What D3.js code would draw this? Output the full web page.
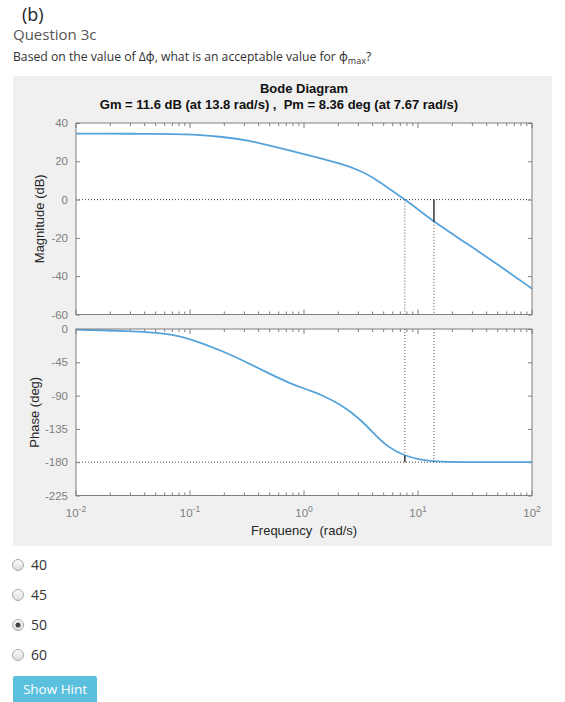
<!DOCTYPE html>
<html>
<head>
<meta charset="utf-8">
<script src="https://cdn.jsdelivr.net/npm/d3@7"></script>
<style>
  html, body { margin: 0; padding: 0; background: #fff; }
  svg { display: block; }
</style>
</head>
<body>
<svg id="page" width="565" height="702"></svg>
<script>
// ---------- data ----------
const freq     = [0.01, 0.02, 0.03, 0.048, 0.07, 0.1, 0.196, 0.336, 0.503, 0.753, 0.923, 1.13, 1.38, 2.07, 3.10, 4.06, 5.31, 7.67, 10.4, 13.8, 26.7, 52.4, 100];
const magDb    = [34.4, 34.4, 34.4, 34.3, 34.2, 34.1, 32.8, 30.8, 28.2, 25.6, 24.3, 23.0, 21.7, 18.9, 15.2, 11.4, 6.6, 0, -5.8, -11.6, -22.9, -34.7, -46.5];
const phaseDeg = [-0.9, -2.0, -3.1, -4.5, -7.5, -13.1, -30.1, -47.2, -60.9, -73.2, -78.5, -83.3, -88.1, -101.3, -121.4, -140.7, -158.8, -171.6, -176.5, -179.4, -180, -180, -180];
const magTicks = [-60, -40, -20, 0, 20, 40];
const phaseTicks = [-225, -180, -135, -90, -45, 0];
const freqExponents = [-2, -1, 0, 1, 2];
const gmFreq = 13.8, gmDb = -11.6;
const pmFreq = 7.67, pmPhase = -171.64;
const choices = ["40", "45", "50", "60"];
const selectedChoice = "50";

const svg = d3.select("#page");
const chartFont = "'Liberation Sans', Arial, sans-serif";
const pageFont = "'Open Sans', 'Noto Sans', sans-serif";

// ---------- page header ----------
svg.append("text").attr("x", 22).attr("y", 21).attr("font-family", pageFont)
  .attr("font-size", 18).attr("fill", "#222").text("(b)");
svg.append("text").attr("x", 13).attr("y", 40).attr("font-family", pageFont)
  .attr("font-size", 15).attr("fill", "#555").text("Question 3c");
const q = svg.append("text").attr("x", 13).attr("y", 61).attr("font-family", pageFont)
  .attr("font-size", 12.2).attr("fill", "#333");
q.append("tspan").text("Based on the value of Δϕ, what is an acceptable value for ϕ");
q.append("tspan").attr("font-size", 9).attr("dy", 3).text("max");
q.append("tspan").attr("dy", -3).text("?");

// ---------- figure panel ----------
svg.append("rect").attr("x", 13).attr("y", 76).attr("width", 539).attr("height", 470).attr("fill", "#f0f0f0");

const x = d3.scaleLog().domain([0.01, 100]).range([76, 532]);
const yMag = d3.scaleLinear().domain([-60, 40]).range([314.5, 123]);
const yPh = d3.scaleLinear().domain([-225, 0]).range([495.5, 329]);

const axisColor = "#7f7f7f";
const tickColor = "#7f7f7f";
const lineColor = "#55a3da";

svg.append("text").attr("x", 304).attr("y", 93).attr("text-anchor", "middle")
  .attr("font-family", chartFont).attr("font-weight", "bold").attr("font-size", 13).attr("fill", "#111")
  .text("Bode Diagram");
svg.append("text").attr("x", 279).attr("y", 109).attr("text-anchor", "middle")
  .attr("font-family", chartFont).attr("font-weight", "bold").attr("font-size", 13).attr("fill", "#111")
  .style("white-space", "pre")
  .text("Gm = 11.6 dB (at 13.8 rad/s) ,  Pm = 8.36 deg (at 7.67 rad/s)");

function drawPanel(y, ticks, values, refVal) {
  const [y0, y1] = y.range(); // bottom, top
  const g = svg.append("g");
  g.append("rect").attr("x", x.range()[0]).attr("y", y1)
    .attr("width", x.range()[1] - x.range()[0]).attr("height", y0 - y1).attr("fill", "#fff");

  g.append("line").attr("x1", x.range()[0]).attr("x2", x.range()[1])
    .attr("y1", y(refVal)).attr("y2", y(refVal))
    .attr("stroke", "#444").attr("stroke-width", 1).attr("stroke-dasharray", "1,2");

  const left = d3.axisLeft(y).tickValues(ticks).tickSize(-4).tickPadding(8).tickFormat(d => String(d));
  const la = g.append("g").attr("transform", `translate(${x.range()[0]},0)`).call(left);
  la.select(".domain").remove();
  la.selectAll("line").attr("stroke", axisColor);
  la.selectAll("text").attr("font-family", chartFont).attr("font-size", 11.5).attr("fill", tickColor);
  const right = d3.axisRight(y).tickValues(ticks).tickSize(-4).tickFormat("");
  const ra = g.append("g").attr("transform", `translate(${x.range()[1]},0)`).call(right);
  ra.select(".domain").remove();
  ra.selectAll("line").attr("stroke", axisColor);

  const minor = [];
  for (let e = -2; e < 2; e++) for (let m = 2; m <= 9; m++) minor.push(m * Math.pow(10, e));
  const major = freqExponents.map(e => Math.pow(10, e));
  [[y0, -1], [y1, 1]].forEach(([yy, dir]) => {
    g.selectAll(null).data(minor).enter().append("line")
      .attr("x1", d => x(d)).attr("x2", d => x(d)).attr("y1", yy).attr("y2", yy + dir * 3)
      .attr("stroke", axisColor);
    g.selectAll(null).data(major).enter().append("line")
      .attr("x1", d => x(d)).attr("x2", d => x(d)).attr("y1", yy).attr("y2", yy + dir * 5)
      .attr("stroke", axisColor);
  });

  const line = d3.line().x((d, i) => x(freq[i])).y(d => y(d)).curve(d3.curveBasis);
  g.append("path").datum(values).attr("d", line).attr("fill", "none")
    .attr("stroke", lineColor).attr("stroke-width", 1.8);

  g.append("rect").attr("x", x.range()[0]).attr("y", y1)
    .attr("width", x.range()[1] - x.range()[0]).attr("height", y0 - y1)
    .attr("fill", "none").attr("stroke", axisColor).attr("stroke-width", 1);
  return g;
}

const gMag = drawPanel(yMag, magTicks, magDb, 0);
const gPh = drawPanel(yPh, phaseTicks, phaseDeg, -180);

function dotted(g, xx, ya, yb) {
  g.append("line").attr("x1", xx).attr("x2", xx).attr("y1", ya).attr("y2", yb)
    .attr("stroke", "#555").attr("stroke-width", 1).attr("stroke-dasharray", "1,2");
}
function solid(g, xx, ya, yb) {
  g.append("line").attr("x1", xx).attr("x2", xx).attr("y1", ya).attr("y2", yb)
    .attr("stroke", "#333").attr("stroke-width", 1.5);
}
dotted(gMag, x(pmFreq), yMag(0), yMag(-60));
dotted(gMag, x(gmFreq), yMag(gmDb), yMag(-60));
solid(gMag, x(gmFreq), yMag(0), yMag(gmDb));
dotted(gPh, x(pmFreq), yPh(0), yPh(pmPhase));
dotted(gPh, x(gmFreq), yPh(0), yPh(-180));
solid(gPh, x(pmFreq), yPh(pmPhase), yPh(-180));

const xl = svg.append("g");
freqExponents.forEach(e => {
  const t = xl.append("text").attr("x", x(Math.pow(10, e))).attr("y", 517).attr("text-anchor", "middle")
    .attr("font-family", chartFont).attr("font-size", 11.5).attr("fill", tickColor);
  t.append("tspan").text("10");
  t.append("tspan").attr("dy", -5).attr("font-size", 8.5).text(String(e));
});

svg.append("text").attr("x", 304).attr("y", 535).attr("text-anchor", "middle")
  .attr("font-family", chartFont).attr("font-size", 13).attr("fill", "#262626")
  .style("white-space", "pre").text("Frequency  (rad/s)");
svg.append("text").attr("transform", `translate(44,${(yMag.range()[0] + yMag.range()[1]) / 2}) rotate(-90)`)
  .attr("text-anchor", "middle").attr("font-family", chartFont).attr("font-size", 13).attr("fill", "#262626")
  .text("Magnitude (dB)");
svg.append("text").attr("transform", `translate(39,${(yPh.range()[0] + yPh.range()[1]) / 2}) rotate(-90)`)
  .attr("text-anchor", "middle").attr("font-family", chartFont).attr("font-size", 13).attr("fill", "#262626")
  .text("Phase (deg)");

// ---------- radio choices ----------
const defs = svg.append("defs");
const grad = defs.append("linearGradient").attr("id", "radioGrad").attr("x1", 0).attr("y1", 0).attr("x2", 0).attr("y2", 1);
grad.append("stop").attr("offset", "0%").attr("stop-color", "#fdfdfd");
grad.append("stop").attr("offset", "100%").attr("stop-color", "#dcdcdc");

const yChoice = d3.scalePoint().domain(choices).range([565, 655]);
const rg = svg.append("g").selectAll("g").data(choices).enter().append("g")
  .attr("transform", d => `translate(18,${yChoice(d)})`);
rg.append("circle").attr("r", 5.5).attr("fill", "url(#radioGrad)").attr("stroke", "#a9a9a9");
rg.filter(d => d === selectedChoice).append("circle").attr("r", 2.5).attr("fill", "#444");
rg.append("text").attr("x", 13).attr("y", 5).attr("font-family", pageFont).attr("font-size", 14)
  .attr("fill", "#333").text(d => d);

// ---------- hint button ----------
svg.append("rect").attr("x", 13).attr("y", 676).attr("width", 84).attr("height", 30).attr("rx", 2).attr("fill", "#5bc0de");
svg.append("text").attr("x", 55).attr("y", 694).attr("text-anchor", "middle").attr("font-family", pageFont)
  .attr("font-size", 13.5).attr("fill", "#fff").text("Show Hint");
</script>
</body>
</html>
